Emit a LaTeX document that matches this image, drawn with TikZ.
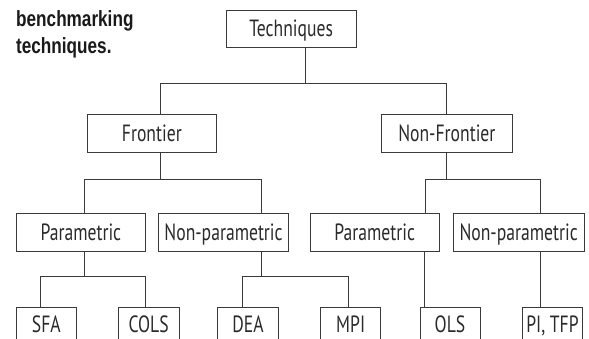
\documentclass[tikz,border=0pt]{standalone}
\usepackage{fontspec}
\setmainfont[FakeStretch=0.75]{PT Sans}
\newfontfamily\capfont[FakeStretch=0.78]{Liberation Sans}
\usetikzlibrary{calc}
\definecolor{ink}{HTML}{2A2A2A}
\definecolor{ln}{HTML}{3A3A3A}
\tikzset{
  box/.style={draw=ln, line width=0.9pt, inner sep=0pt, minimum height=37.7pt,
    text height=16pt, text depth=0pt, text=ink,
    font=\fontsize{23.5}{23.5}\selectfont},
  leaf/.style={box, minimum height=34pt},
  link/.style={draw=ln, line width=0.9pt},
  captext/.style={anchor=base west, inner sep=0pt, text=black!90,
    font=\capfont\bfseries\fontsize{22}{26.7}\selectfont}
}
\begin{document}
\begin{tikzpicture}[x=1pt,y=-1pt]
\useasboundingbox (0,0) rectangle (589,338);
\clip (0,0) rectangle (589,338);
% caption
\node[captext] (cap1) at (16,26.7) {benchmarking};
\node[captext] (cap2) at (16,53.3) {techniques.};
% level 1
\node[box, minimum width=129.5pt] (tech) at (291.2,28.85) {Techniques};
% level 2
\node[box, minimum width=129.7pt, minimum height=38pt] (front) at (151.85,133.3) {Frontier};
\node[box, minimum width=130.3pt, minimum height=38pt] (nonfront) at (446.85,133.3) {Non-Frontier};
% level 3
\node[box, minimum width=129.7pt] (paramL) at (80.85,232.15) {Parametric};
\node[box, minimum width=129.5pt] (nonparamL) at (223.55,232.15) {Non-parametric};
\node[box, minimum width=129.3pt] (paramR) at (374.65,232.15) {Parametric};
\node[box, minimum width=130.7pt] (nonparamR) at (518.65,232.15) {Non-parametric};
% level 4
\node[leaf, minimum width=60.7pt] (sfa) at (46.35,324.7) {SFA};
\node[leaf, minimum width=60.7pt] (cols) at (148.65,324.7) {COLS};
\node[leaf, minimum width=60.6pt] (dea) at (248,324.7) {DEA};
\node[leaf, minimum width=60pt] (mpi) at (350.7,324.7) {MPI};
\node[leaf, minimum width=60pt] (ols) at (450,324.7) {OLS};
\node[leaf, minimum width=60.4pt] (pitfp) at (552.5,324.7) {PI, TFP};
% junction coordinates
\coordinate (j1) at (305,83.3);
\coordinate (j1l) at (160,83.3);
\coordinate (j1r) at (446.5,83.3);
\coordinate (j2) at (160,179);
\coordinate (j2l) at (84,179);
\coordinate (j2r) at (261,179);
\coordinate (j3) at (446.5,179);
\coordinate (j3l) at (425,179);
\coordinate (j3r) at (540.7,179);
\coordinate (j4) at (84,276);
\coordinate (j4l) at (40.3,276);
\coordinate (j4r) at (145.7,276);
\coordinate (j5) at (261,276.7);
\coordinate (j5l) at (242.3,276.7);
\coordinate (j5r) at (348.3,276.7);
\coordinate (j6) at (424.3,0);
\coordinate (j7) at (540.7,0);
% connectors
\draw[link] (tech.south -| j1) -- (j1);
\draw[link] (front.north -| j1l) -- (j1l) -- (j1r) -- (nonfront.north -| j1r);
\draw[link] (front.south -| j2) -- (j2);
\draw[link] (paramL.north -| j2l) -- (j2l) -- (j2r) -- (nonparamL.north -| j2r);
\draw[link] (nonfront.south -| j3) -- (j3);
\draw[link] (paramR.north -| j3l) -- (j3l) -- (j3r) -- (nonparamR.north -| j3r);
\draw[link] (paramL.south -| j4) -- (j4);
\draw[link] (sfa.north -| j4l) -- (j4l) -- (j4r) -- (cols.north -| j4r);
\draw[link] (nonparamL.south -| j5) -- (j5);
\draw[link] (dea.north -| j5l) -- (j5l) -- (j5r) -- (mpi.north -| j5r);
\draw[link] (paramR.south -| j6) -- (ols.north -| j6);
\draw[link] (nonparamR.south -| j7) -- (pitfp.north -| j7);
\end{tikzpicture}
\end{document}
